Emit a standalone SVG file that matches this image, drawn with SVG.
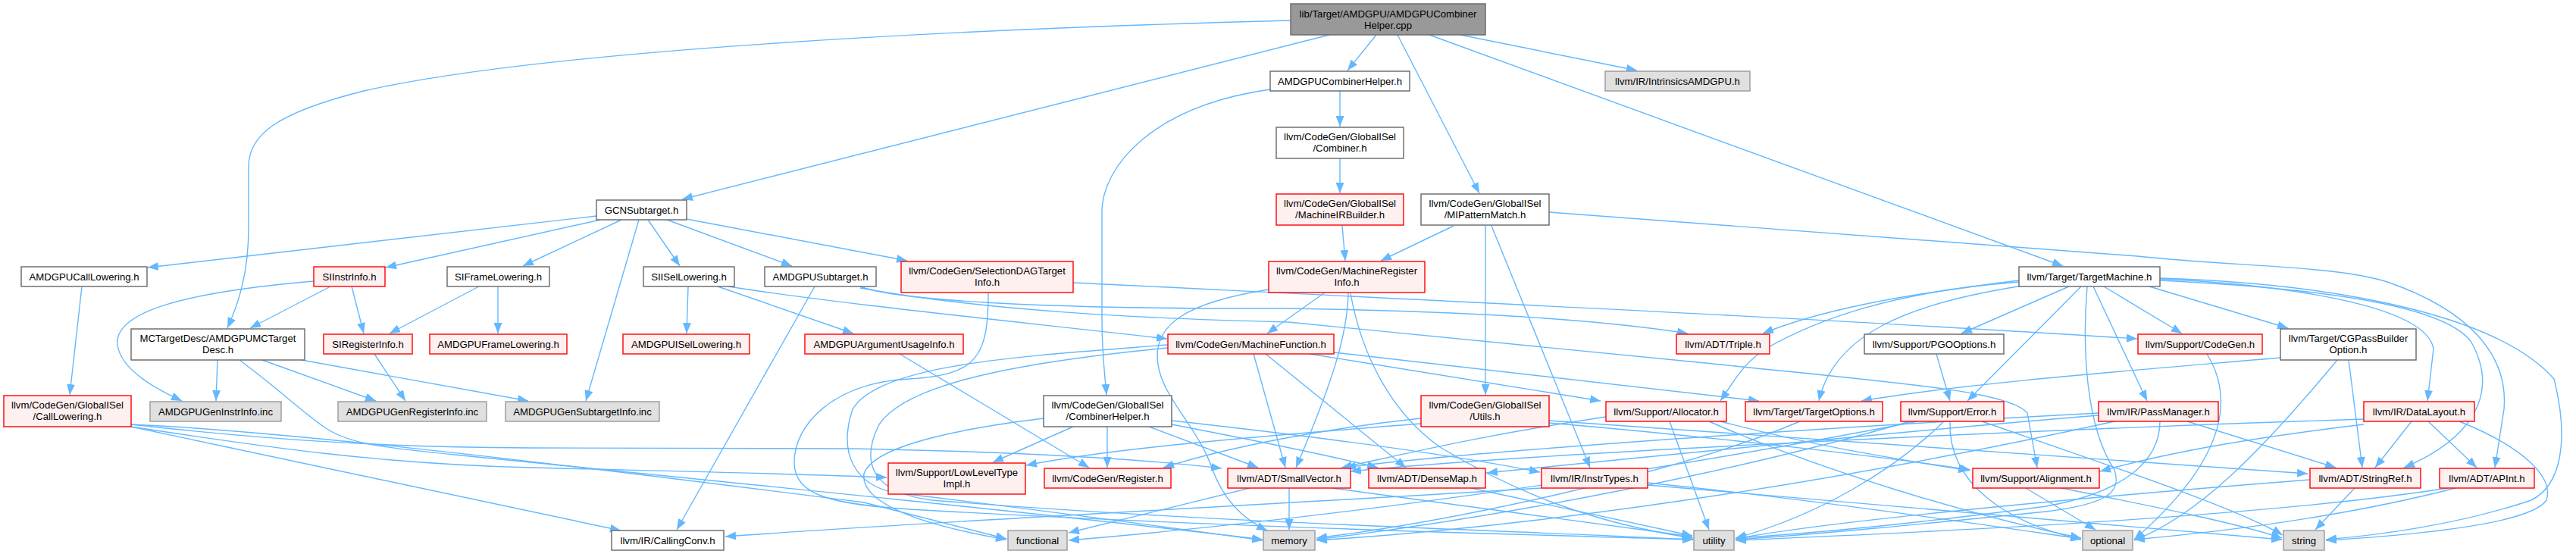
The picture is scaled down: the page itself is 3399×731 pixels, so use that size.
<svg xmlns="http://www.w3.org/2000/svg" width="3399" height="731" viewBox="0 0 3399 731">
<defs>
<marker id="ah" markerUnits="userSpaceOnUse" markerWidth="15" markerHeight="11" refX="14" refY="5.5" orient="auto"><path d="M0,0 L14,5.5 L0,11 z" fill="#63b8ff"/></marker>
<style>
.e{fill:none;stroke:#63b8ff;stroke-width:1.4;marker-end:url(#ah)}
rect{stroke-width:1.4}
.w{fill:#fff;stroke:#666}
.r{fill:#fff0f0;stroke:#ff0000}
.g{fill:#e0e0e0;stroke:#999}
.root{fill:#999;stroke:#666}
text{font-family:"Liberation Sans",Arial,Helvetica,sans-serif;font-size:13.2px;text-anchor:middle;fill:#000}
</style>
</defs>
<rect width="3399" height="731" fill="#fff"/>
<g id="edges">
<path class="e" d="M1816,46 L1778,93"/>
<path class="e" d="M1844,46 L1952,255"/>
<path class="e" d="M1927,46 L2160,93"/>
<path class="e" d="M1886,46 L2722,351"/>
<path class="e" d="M1754,46 L900,263"/>
<path class="e" d="M1703,27 C1200,40 700,70 480,120 C360,150 328,180 328,220 L328,300 C328,360 315,400 300,433"/>
<path class="e" d="M1768,120 L1768,167"/>
<path class="e" d="M1676,118 C1520,140 1454,220 1454,280 L1454,420 C1454,470 1458,495 1460,521"/>
<path class="e" d="M1768,209 L1768,255"/>
<path class="e" d="M1771,298 L1775,344"/>
<path class="e" d="M1918,298 L1822,344"/>
<path class="e" d="M1960,298 L1960,521"/>
<path class="e" d="M1968,298 L2098,617"/>
<path class="e" d="M2044,280 L2820,338 C2950,352 3080,350 3150,372 C3260,410 3310,470 3304,540 L3292,617"/>
<path class="e" d="M787,285 L195,353"/>
<path class="e" d="M792,290 L509,353"/>
<path class="e" d="M820,290 L690,351"/>
<path class="e" d="M843,290 L773,529"/>
<path class="e" d="M855,290 L897,351"/>
<path class="e" d="M880,290 L1045,351"/>
<path class="e" d="M906,289 L1197,344"/>
<path class="e" d="M108,378 L92,521"/>
<path class="e" d="M414,371 C250,385 150,410 155,455 C160,490 210,515 240,529"/>
<path class="e" d="M436,378 L330,433"/>
<path class="e" d="M464,378 L480,440"/>
<path class="e" d="M632,378 L514,440"/>
<path class="e" d="M657,378 L657,440"/>
<path class="e" d="M908,378 L906,440"/>
<path class="e" d="M947,378 L1126,440"/>
<path class="e" d="M961,378 C1100,400 1300,420 1540,447"/>
<path class="e" d="M1075,378 L893,699"/>
<path class="e" d="M1135,378 C1180,395 1350,408 1700,407 C1900,410 2100,420 2227,440"/>
<path class="e" d="M1135,380 C1300,410 1500,420 1700,425 L2240,478 C2500,505 2650,515 2675,545 L2688,617"/>
<path class="e" d="M1416,373 C1800,392 2400,420 2820,447"/>
<path class="e" d="M1304,386 C1304,470 1290,495 1200,500 C1100,505 1048,560 1048,610 C1048,655 1100,665 1200,672 C1600,695 2000,705 2234,712"/>
<path class="e" d="M1748,386 L1672,440"/>
<path class="e" d="M1779,386 C1778,440 1760,500 1710,617"/>
<path class="e" d="M1782,387 C1795,460 1830,540 1900,590 C2000,650 2100,690 2234,710"/>
<path class="e" d="M1674,382 C1560,400 1527,430 1527,470 C1527,520 1580,560 1600,620 C1615,660 1640,685 1672,700"/>
<path class="e" d="M287,475 L285,529"/>
<path class="e" d="M346,475 L496,529"/>
<path class="e" d="M398,475 L697,529"/>
<path class="e" d="M316,475 C370,515 400,545 430,565 C460,585 500,590 600,600 C1000,640 1400,680 1666,712"/>
<path class="e" d="M494,467 L535,529"/>
<path class="e" d="M1187,467 L1437,617"/>
<path class="e" d="M1654,467 L1696,617"/>
<path class="e" d="M1670,467 L1855,617"/>
<path class="e" d="M1728,467 L2112,529"/>
<path class="e" d="M1760,465 L2321,529"/>
<path class="e" d="M1541,455 C1350,470 1160,480 1125,540 C1105,600 1130,640 1180,650 C1350,670 1500,690 1666,713"/>
<path class="e" d="M1541,459 C1300,482 1190,515 1160,560 C1135,610 1150,650 1230,660 C1600,690 2000,700 2234,712"/>
<path class="e" d="M173,560 C350,580 500,590 700,591 L1120,592 C1350,596 1500,605 1612,618"/>
<path class="e" d="M173,563 C350,590 500,612 700,617 C900,622 1050,625 1170,630"/>
<path class="e" d="M173,563 L819,700"/>
<path class="e" d="M173,560 C400,570 800,620 1140,663 L1328,711"/>
<path class="e" d="M1416,563 L1310,610"/>
<path class="e" d="M1461,563 L1461,617"/>
<path class="e" d="M1516,563 L1660,617"/>
<path class="e" d="M1546,555 C1700,572 1900,597 2032,623"/>
<path class="e" d="M1546,560 C1650,580 1750,600 1818,617"/>
<path class="e" d="M1377,552 C1230,570 1150,595 1140,625 C1135,660 1200,690 1328,712"/>
<path class="e" d="M1875,552 C1750,565 1620,590 1535,617"/>
<path class="e" d="M1875,559 C1600,580 1450,595 1354,614"/>
<path class="e" d="M2044,555 C2500,590 2800,610 3045,625"/>
<path class="e" d="M2044,558 C2300,580 2500,605 2600,620"/>
<path class="e" d="M2203,556 L2255,699"/>
<path class="e" d="M2270,556 C2400,590 2500,605 2598,621"/>
<path class="e" d="M2119,550 C1950,575 1850,600 1770,617"/>
<path class="e" d="M2255,556 C2400,620 2600,680 2746,710"/>
<path class="e" d="M2530,556 C2200,620 1800,680 1410,713"/>
<path class="e" d="M2520,556 C2300,620 2000,680 1737,712"/>
<path class="e" d="M2565,556 C2500,620 2400,680 2290,710"/>
<path class="e" d="M2573,556 C2570,640 2650,690 2746,712"/>
<path class="e" d="M2615,556 C2800,620 2950,670 3012,706"/>
<path class="e" d="M2375,556 C2200,630 1900,690 1737,710"/>
<path class="e" d="M2555,467 L2573,529"/>
<path class="e" d="M2664,370 C2500,390 2400,410 2326,440"/>
<path class="e" d="M2664,372 C2500,385 2400,420 2330,460 C2300,480 2290,500 2270,529"/>
<path class="e" d="M2669,377 C2520,400 2420,440 2400,529"/>
<path class="e" d="M2730,378 L2588,440"/>
<path class="e" d="M2746,378 L2596,529"/>
<path class="e" d="M2762,378 L2833,529"/>
<path class="e" d="M2776,378 L2879,440"/>
<path class="e" d="M2836,378 L3019,433"/>
<path class="e" d="M2850,368 C3000,375 3200,400 3211,460 L3203,529"/>
<path class="e" d="M2850,370 C3050,380 3220,400 3260,450 C3300,520 3260,580 3172,617"/>
<path class="e" d="M2850,367 C3100,375 3300,420 3370,500 C3390,580 3380,640 3340,660 C3250,690 3150,705 3069,712"/>
<path class="e" d="M2754,378 C2748,450 2750,560 2790,620 C2800,650 2780,665 2700,675 C2550,690 2400,705 2290,712"/>
<path class="e" d="M2886,556 L3082,617"/>
<path class="e" d="M2769,548 C2500,570 2200,600 1962,624"/>
<path class="e" d="M2769,545 C2300,570 1900,600 1775,617"/>
<path class="e" d="M2850,556 C2850,610 2800,650 2700,668 C2550,688 2400,703 2290,710"/>
<path class="e" d="M2790,556 C2500,620 2100,690 1737,713"/>
<path class="e" d="M3182,556 L3134,617"/>
<path class="e" d="M3204,556 L3268,617"/>
<path class="e" d="M3245,556 C3330,590 3370,630 3360,660 C3340,690 3200,705 3069,713"/>
<path class="e" d="M3119,560 C2950,580 2850,600 2771,622"/>
<path class="e" d="M3119,553 C2600,570 2000,600 1782,622"/>
<path class="e" d="M3107,644 L3055,699"/>
<path class="e" d="M3048,633 C2700,660 2400,690 2290,711"/>
<path class="e" d="M3240,644 C3100,680 2950,700 2816,712"/>
<path class="e" d="M3230,644 C3000,680 2600,700 2290,713"/>
<path class="e" d="M2673,644 L2765,699"/>
<path class="e" d="M2720,644 C2850,670 2950,690 3011,710"/>
<path class="e" d="M2034,644 C1600,670 1200,690 957,708"/>
<path class="e" d="M2174,637 C2400,660 2600,690 2746,711"/>
<path class="e" d="M2174,640 C2500,670 2800,695 3011,712"/>
<path class="e" d="M1701,644 L1701,699"/>
<path class="e" d="M1758,644 L2233,708"/>
<path class="e" d="M1649,644 L1410,703"/>
<path class="e" d="M1941,644 L2233,707"/>
<path class="e" d="M2912,467 C2945,520 2945,600 2816,712"/>
<path class="e" d="M3009,472 C2800,490 2600,505 2456,529"/>
<path class="e" d="M3084,475 C2980,600 2900,680 2816,713"/>
<path class="e" d="M3099,475 L3117,617"/>
</g>
<g id="n0"><rect class="root" x="1703" y="5" width="257" height="41"/><text x="1831.5" y="23">lib/Target/AMDGPU/AMDGPUCombiner</text><text x="1831.5" y="38">Helper.cpp</text></g>
<g id="n1"><rect class="w" x="1676" y="94" width="184" height="26"/><text x="1768" y="111.5">AMDGPUCombinerHelper.h</text></g>
<g id="n2"><rect class="g" x="2118" y="94" width="191" height="26"/><text x="2213.5" y="111.5">llvm/IR/IntrinsicsAMDGPU.h</text></g>
<g id="n3"><rect class="w" x="1684" y="168" width="168" height="41"/><text x="1768" y="185">llvm/CodeGen/GlobalISel</text><text x="1768" y="200">/Combiner.h</text></g>
<g id="n4"><rect class="r" x="1684" y="256" width="168" height="41"/><text x="1768" y="273">llvm/CodeGen/GlobalISel</text><text x="1768" y="288">/MachineIRBuilder.h</text></g>
<g id="n5"><rect class="w" x="1875" y="256" width="169" height="41"/><text x="1959.5" y="273">llvm/CodeGen/GlobalISel</text><text x="1959.5" y="288">/MIPatternMatch.h</text></g>
<g id="n6"><rect class="w" x="787" y="264" width="119" height="26"/><text x="846.5" y="281.5">GCNSubtarget.h</text></g>
<g id="n7"><rect class="w" x="28" y="352" width="166" height="26"/><text x="111" y="369.5">AMDGPUCallLowering.h</text></g>
<g id="n8"><rect class="r" x="414" y="352" width="94" height="26"/><text x="461" y="369.5">SIInstrInfo.h</text></g>
<g id="n9"><rect class="w" x="590" y="352" width="135" height="26"/><text x="657.5" y="369.5">SIFrameLowering.h</text></g>
<g id="n10"><rect class="w" x="849" y="352" width="120" height="26"/><text x="909" y="369.5">SIISelLowering.h</text></g>
<g id="n11"><rect class="w" x="1009" y="352" width="147" height="26"/><text x="1082.5" y="369.5">AMDGPUSubtarget.h</text></g>
<g id="n12"><rect class="r" x="1189" y="345" width="227" height="41"/><text x="1302.5" y="362">llvm/CodeGen/SelectionDAGTarget</text><text x="1302.5" y="377">Info.h</text></g>
<g id="n13"><rect class="r" x="1674" y="345" width="206" height="41"/><text x="1777" y="362">llvm/CodeGen/MachineRegister</text><text x="1777" y="377">Info.h</text></g>
<g id="n14"><rect class="w" x="2664" y="352" width="186" height="26"/><text x="2757" y="369.5">llvm/Target/TargetMachine.h</text></g>
<g id="n15"><rect class="w" x="173" y="434" width="229" height="41"/><text x="287.5" y="451">MCTargetDesc/AMDGPUMCTarget</text><text x="287.5" y="466">Desc.h</text></g>
<g id="n16"><rect class="r" x="427" y="441" width="117" height="26"/><text x="485.5" y="458.5">SIRegisterInfo.h</text></g>
<g id="n17"><rect class="r" x="567" y="441" width="181" height="26"/><text x="657.5" y="458.5">AMDGPUFrameLowering.h</text></g>
<g id="n18"><rect class="r" x="822" y="441" width="167" height="26"/><text x="905.5" y="458.5">AMDGPUISelLowering.h</text></g>
<g id="n19"><rect class="r" x="1062" y="441" width="209" height="26"/><text x="1166.5" y="458.5">AMDGPUArgumentUsageInfo.h</text></g>
<g id="n20"><rect class="r" x="1541" y="441" width="219" height="26"/><text x="1650.5" y="458.5">llvm/CodeGen/MachineFunction.h</text></g>
<g id="n21"><rect class="r" x="2212" y="441" width="123" height="26"/><text x="2273.5" y="458.5">llvm/ADT/Triple.h</text></g>
<g id="n22"><rect class="w" x="2460" y="441" width="184" height="26"/><text x="2552" y="458.5">llvm/Support/PGOOptions.h</text></g>
<g id="n23"><rect class="r" x="2821" y="441" width="164" height="26"/><text x="2903" y="458.5">llvm/Support/CodeGen.h</text></g>
<g id="n24"><rect class="w" x="3009" y="434" width="179" height="41"/><text x="3098.5" y="451">llvm/Target/CGPassBuilder</text><text x="3098.5" y="466">Option.h</text></g>
<g id="n25"><rect class="r" x="5" y="522" width="168" height="41"/><text x="89" y="539">llvm/CodeGen/GlobalISel</text><text x="89" y="554">/CallLowering.h</text></g>
<g id="n26"><rect class="g" x="198" y="530" width="173" height="26"/><text x="284.5" y="547.5">AMDGPUGenInstrInfo.inc</text></g>
<g id="n27"><rect class="g" x="446" y="530" width="196" height="26"/><text x="544" y="547.5">AMDGPUGenRegisterInfo.inc</text></g>
<g id="n28"><rect class="g" x="667" y="530" width="203" height="26"/><text x="768.5" y="547.5">AMDGPUGenSubtargetInfo.inc</text></g>
<g id="n29"><rect class="w" x="1377" y="522" width="169" height="41"/><text x="1461.5" y="539">llvm/CodeGen/GlobalISel</text><text x="1461.5" y="554">/CombinerHelper.h</text></g>
<g id="n30"><rect class="r" x="1875" y="522" width="169" height="41"/><text x="1959.5" y="539">llvm/CodeGen/GlobalISel</text><text x="1959.5" y="554">/Utils.h</text></g>
<g id="n31"><rect class="r" x="2119" y="530" width="159" height="26"/><text x="2198.5" y="547.5">llvm/Support/Allocator.h</text></g>
<g id="n32"><rect class="r" x="2303" y="530" width="181" height="26"/><text x="2393.5" y="547.5">llvm/Target/TargetOptions.h</text></g>
<g id="n33"><rect class="r" x="2508" y="530" width="136" height="26"/><text x="2576" y="547.5">llvm/Support/Error.h</text></g>
<g id="n34"><rect class="r" x="2769" y="530" width="158" height="26"/><text x="2848" y="547.5">llvm/IR/PassManager.h</text></g>
<g id="n35"><rect class="r" x="3119" y="530" width="146" height="26"/><text x="3192" y="547.5">llvm/IR/DataLayout.h</text></g>
<g id="n36"><rect class="r" x="1172" y="611" width="181" height="41"/><text x="1262.5" y="628">llvm/Support/LowLevelType</text><text x="1262.5" y="643">Impl.h</text></g>
<g id="n37"><rect class="r" x="1378" y="618" width="167" height="26"/><text x="1461.5" y="635.5">llvm/CodeGen/Register.h</text></g>
<g id="n38"><rect class="r" x="1620" y="618" width="162" height="26"/><text x="1701" y="635.5">llvm/ADT/SmallVector.h</text></g>
<g id="n39"><rect class="r" x="1806" y="618" width="154" height="26"/><text x="1883" y="635.5">llvm/ADT/DenseMap.h</text></g>
<g id="n40"><rect class="r" x="2034" y="618" width="140" height="26"/><text x="2104" y="635.5">llvm/IR/InstrTypes.h</text></g>
<g id="n41"><rect class="r" x="2603" y="618" width="167" height="26"/><text x="2686.5" y="635.5">llvm/Support/Alignment.h</text></g>
<g id="n42"><rect class="r" x="3048" y="618" width="146" height="26"/><text x="3121" y="635.5">llvm/ADT/StringRef.h</text></g>
<g id="n43"><rect class="r" x="3219" y="618" width="125" height="26"/><text x="3281.5" y="635.5">llvm/ADT/APInt.h</text></g>
<g id="n44"><rect class="w" x="807" y="700" width="148" height="26"/><text x="881" y="717.5">llvm/IR/CallingConv.h</text></g>
<g id="n45"><rect class="g" x="1330" y="700" width="78" height="26"/><text x="1369" y="717.5">functional</text></g>
<g id="n46"><rect class="g" x="1667" y="700" width="68" height="26"/><text x="1701" y="717.5">memory</text></g>
<g id="n47"><rect class="g" x="2235" y="700" width="53" height="26"/><text x="2261.5" y="717.5">utility</text></g>
<g id="n48"><rect class="g" x="2748" y="700" width="66" height="26"/><text x="2781" y="717.5">optional</text></g>
<g id="n49"><rect class="g" x="3013" y="700" width="54" height="26"/><text x="3040" y="717.5">string</text></g>
</svg>
